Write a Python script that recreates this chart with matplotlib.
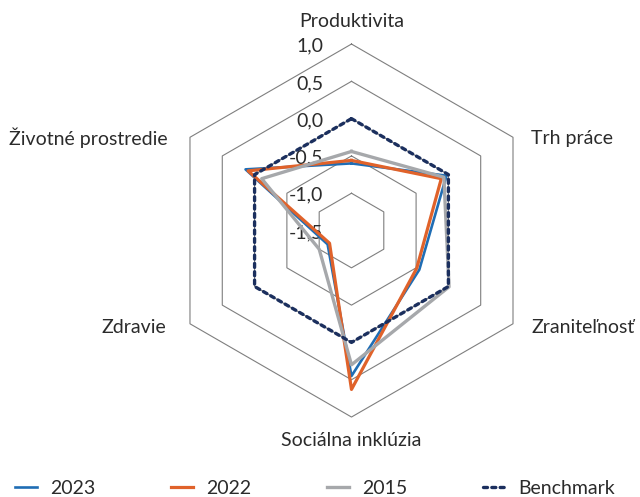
import matplotlib
matplotlib.use("Agg")
import matplotlib.pyplot as plt
import numpy as np

# ---------------------------------------------------------------------------
# Data
# ---------------------------------------------------------------------------
CATEGORIES = ["Produktivita", "Trh práce", "Zraniteľnosť",
              "Sociálna inklúzia", "Zdravie", "Životné prostredie"]
VALUES_2023 = [-0.60, -0.03, -0.45, 0.45, -1.13, 0.14]
VALUES_2022 = [-0.56, -0.11, -0.49, 0.63, -1.16, 0.10]
VALUES_2015 = [-0.44, -0.07, 0.01, 0.30, -1.00, -0.11]
BENCHMARK = [0.0, 0.0, 0.0, 0.0, 0.0, 0.0]
SERIES_NAMES = ["2023", "2022", "2015", "Benchmark"]
RING_LEVELS = [-1.0, -0.5, 0.0, 0.5, 1.0]
TICK_LEVELS = [-1.5, -1.0, -0.5, 0.0, 0.5, 1.0]
TICK_LABELS = ["-1,5", "-1,0", "-0,5", "0,0", "0,5", "1,0"]

# ---------------------------------------------------------------------------
# Style
# ---------------------------------------------------------------------------
C_2023 = "#1F6DB4"
C_2022 = "#E0622A"
C_2015 = "#A6A8AB"
C_BENCH = "#1B2F5E"
C_GRID = "#7F7F7F"
C_TEXT = "#2B2B2B"
FONT = ["Lato", "DejaVu Sans"]
FS = 14

plt.rcParams["font.family"] = FONT

fig = plt.figure(figsize=(6.4, 4.97), dpi=100)
ax = fig.add_axes([0.2578, 0.1609, 0.5828, 0.7505], projection="polar")
ax.set_theta_offset(np.pi / 2)
ax.set_theta_direction(-1)
ax.set_ylim(-1.5, 1.0)
ax.grid(False)
ax.set_xticks([])
ax.set_yticks([])
ax.spines["polar"].set_visible(False)
ax.patch.set_alpha(0)

n = len(CATEGORIES)
angles = np.arange(n) * 2 * np.pi / n
closed = np.append(angles, angles[0])


def _close(vals):
    return np.append(vals, vals[0])


# hexagonal grid rings
for lv in RING_LEVELS:
    ax.plot(closed, np.full(n + 1, lv), color=C_GRID, lw=0.8,
            clip_on=False, zorder=1)

ax.plot(closed, _close(VALUES_2023), color=C_2023, lw=1.9,
        clip_on=False, zorder=3, label=SERIES_NAMES[0])
ax.plot(closed, _close(VALUES_2022), color=C_2022, lw=2.3,
        clip_on=False, zorder=4, label=SERIES_NAMES[1])
ax.plot(closed, _close(VALUES_2015), color=C_2015, lw=2.4,
        clip_on=False, zorder=5, label=SERIES_NAMES[2])
ax.plot(closed, _close(BENCHMARK), color=C_BENCH, lw=2.4,
        dashes=(1.2, 1.3), dash_capstyle="round",
        clip_on=False, zorder=6, label=SERIES_NAMES[3])

# radial tick labels, left of the vertical axis
for lv, lbl in zip(TICK_LEVELS, TICK_LABELS):
    ax.annotate(lbl, xy=(0, lv), xytext=(-20.5, -1.5),
                textcoords="offset points", ha="right", va="center",
                fontsize=FS, color=C_TEXT, zorder=2, annotation_clip=False)

# category labels around the outer ring
label_offsets = [
    ((0, 16.0), "center"),
    ((13.3, -0.8), "left"),
    ((13.5, -2.6), "left"),
    ((0, -16.6), "center"),
    ((-17.3, -2.5), "right"),
    ((-15.8, 0.0), "right"),
]
for ang, name, (off, ha) in zip(angles, CATEGORIES, label_offsets):
    ax.annotate(name, xy=(ang, 1.0), xytext=off, textcoords="offset points",
                ha=ha, va="center", fontsize=FS, color=C_TEXT,
                annotation_clip=False)

handles, labels = ax.get_legend_handles_labels()
fig.legend(handles, labels, loc="center left",
           bbox_to_anchor=(15 / 640, 9 / 497), ncol=4, frameon=False,
           fontsize=FS, handlelength=1.15, handletextpad=0.65,
           columnspacing=3.9, borderaxespad=0, borderpad=0,
           labelcolor=C_TEXT)

fig.savefig("out.png", dpi=100)
